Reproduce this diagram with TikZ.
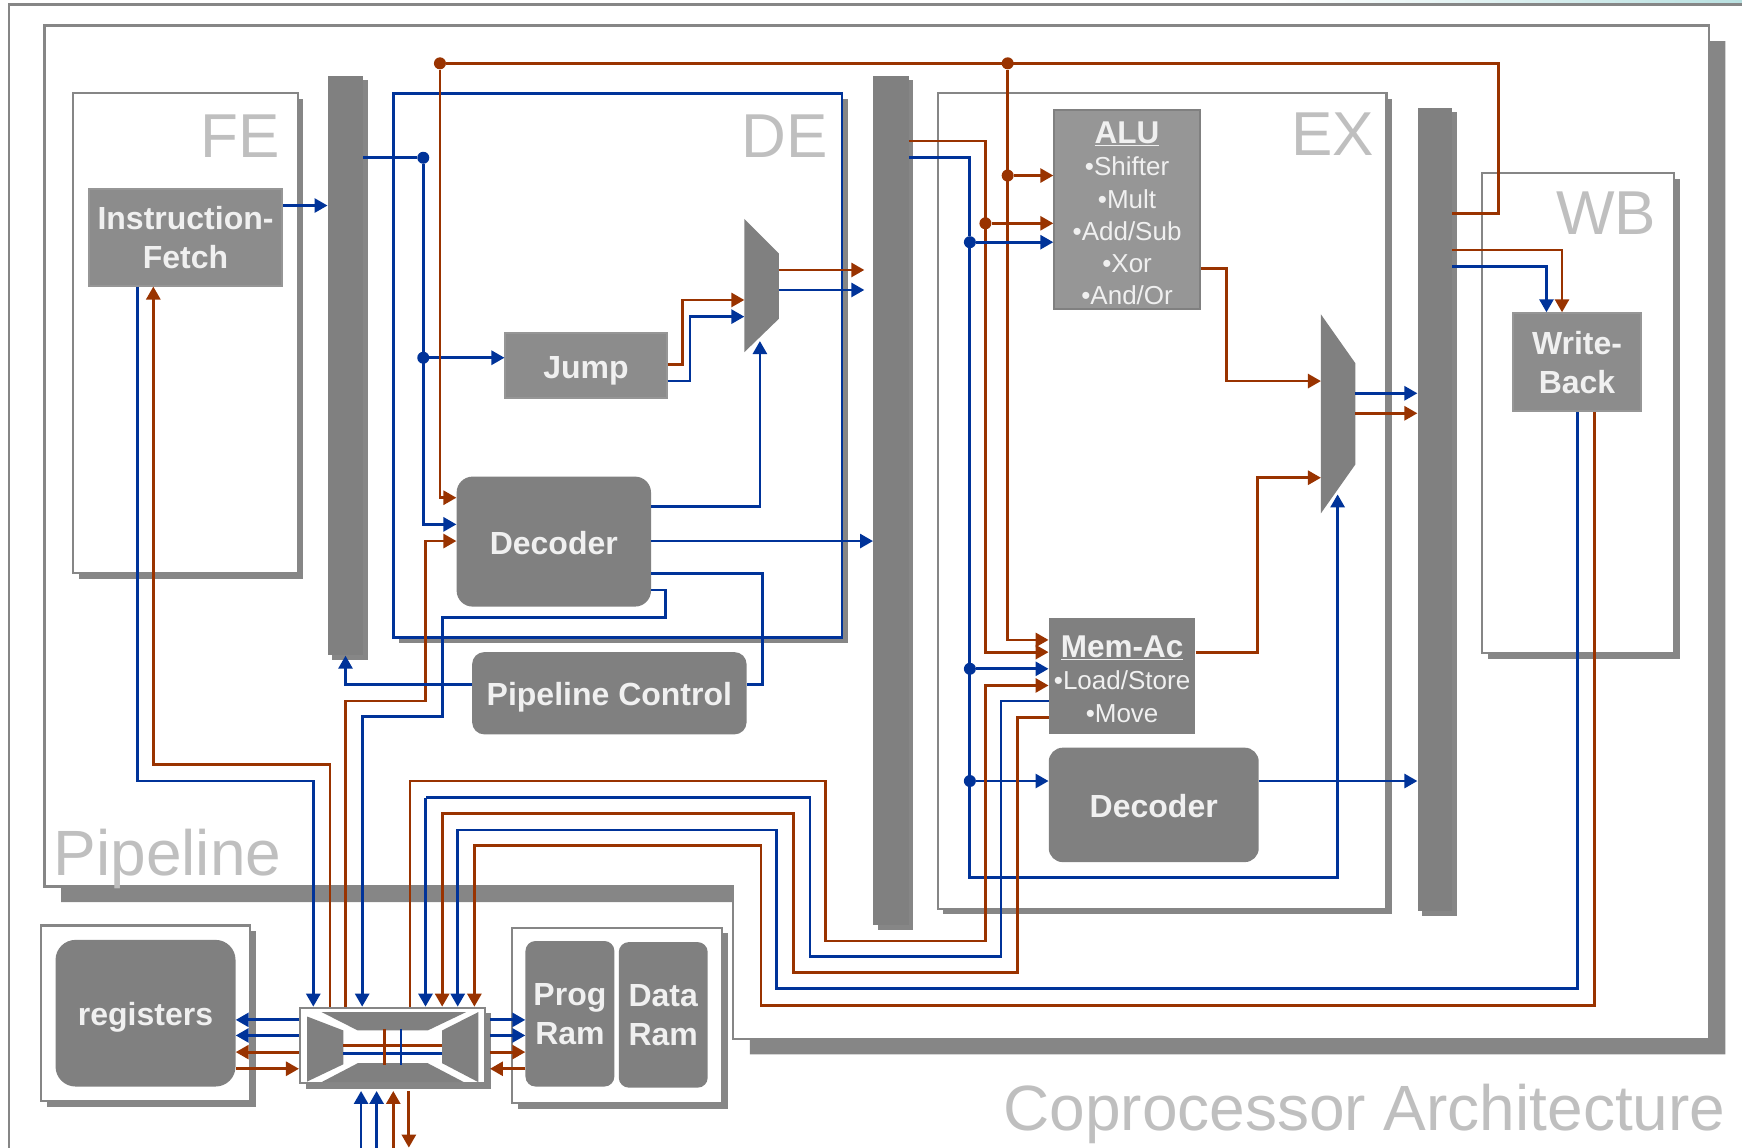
\documentclass[tikz,border=0pt]{standalone}
\usepackage{fontspec}
\setmainfont{Liberation Sans}
\usetikzlibrary{arrows.meta,fit,shadows}
\definecolor{wireblue}{RGB}{0,51,153}
\definecolor{wirebrown}{RGB}{153,51,0}
\definecolor{blockgray}{RGB}{128,128,128}
\definecolor{fetchgray}{RGB}{140,140,140}
\definecolor{alugray}{RGB}{150,150,150}
\definecolor{framegray}{RGB}{134,134,134}
\definecolor{taggray}{RGB}{191,191,191}
\definecolor{softwhite}{RGB}{240,240,240}
\definecolor{stripteal}{RGB}{184,224,224}
\tikzset{
  blocksize/.style 2 args={minimum width=#1*1.111pt, minimum height=#2*1.111pt},
  framebox/.style={draw=framegray, fill=white, line width=2.2pt, inner sep=0pt,
    drop shadow={opacity=1, fill=framegray, shadow xshift=5.6pt, shadow yshift=-5.6pt}},
  stagebar/.style={fill=blockgray, inner sep=0pt,
    drop shadow={opacity=1, fill=framegray, shadow xshift=4.6pt, shadow yshift=-4.6pt}},
  block/.style={fill=blockgray, inner sep=0pt, align=center, text=softwhite,
    font=\fontsize{32}{39}\selectfont\bfseries},
  roundblock/.style={block, rounded corners=#1},
  squareblock/.style={block, fill=fetchgray, draw=alugray, line width=2pt},
  listblock/.style={block, font=\fontsize{26}{32.2}\selectfont},
  oneline/.style={text height=25pt, text depth=0pt},
  tag/.style={text=taggray, inner sep=0pt, font=\fontsize{62}{62}\selectfont},
  bluewire/.style={draw=wireblue, line width=2.8pt},
  brownwire/.style={draw=wirebrown, line width=2.8pt},
  blueflow/.style={bluewire, -{Triangle[length=13pt,width=14pt]}},
  brownflow/.style={brownwire, -{Triangle[length=13pt,width=14pt]}},
  bluedot/.style={circle, fill=wireblue, inner sep=0pt, minimum size=12pt},
  browndot/.style={circle, fill=wirebrown, inner sep=0pt, minimum size=12pt}
}
\newcommand{\listhead}[2]{{\fontsize{31.5}{32.2}\selectfont\bfseries\rule{0pt}{#2}\underline{#1}}}
\begin{document}
\begin{tikzpicture}[x=1.111pt,y=-1.111pt]
  \useasboundingbox (0,0) rectangle (1568,1033.3);
  \shade[left color=white, right color=stripteal] (1150,0) rectangle (1568,4);
  \draw[framegray, line width=2.2pt] (8,1034) -- (8,4) -- (1568,4);

  % pipeline outline and its shadow
  \fill[framegray, shift={(15,14)}] (40,23) -- (1538,23) -- (1538,935) -- (660,935) -- (660,798) -- (40,798) -- cycle;
  \draw[framegray, fill=white, line width=2.2pt] (40,23) -- (1538,23) -- (1538,935) -- (660,935) -- (660,798) -- (40,798) -- cycle;

  % stages
  \node[framebox, fit={(66,84) (268,516)}] (festage) {};
  \node[framebox, draw=wireblue, line width=2.6pt, fit={(354,84) (758,574)}] (destage) {};
  \node[framebox, fit={(844,84) (1248,818)}] (exstage) {};
  \node[framebox, fit={(1334,156) (1507,588)}] (wbstage) {};
  \node[framebox, fit={(37,833) (225,991)}] (regframe) {};
  \node[framebox, fit={(461,835) (650,993)}] (ramframe) {};

  \node[stagebar, fit={(295,68) (327,590)}] (bar1) {};
  \node[stagebar, fit={(786,68) (818,833)}] (bar2) {};
  \node[stagebar, fit={(1276,97) (1307,820)}] (bar3) {};

  \node[tag, anchor=base east] (fetag) at (252,142) {FE};
  \node[tag, anchor=base east] (detag) at (745,142) {DE};
  \node[tag, anchor=base east] (extag) at (1237,140) {EX};
  \node[tag, anchor=base east] (wbtag) at (1491,211) {WB};
  \node[tag, anchor=base west, font=\fontsize{64}{64}\selectfont] (pipetag) at (48,788) {Pipeline};
  \node[tag, anchor=base west, font=\fontsize{64}{64}\selectfont] (coprotag) at (903,1018) {Coprocessor Architecture};

  % blocks
  \node[squareblock, blocksize={174}{87}] (fetch) at (167,213.5) {Instruction-\\Fetch};
  \node[squareblock, oneline, blocksize={145}{58}] (jump) at (527.5,329) {Jump};
  \node[roundblock=16pt, oneline, blocksize={175}{117}] (decode) at (498.5,487.5) {Decoder};
  \node[roundblock=12pt, oneline, blocksize={247}{74}] (pipectl) at (548.5,624) {Pipeline Control};
  \node[listblock, fill=alugray, draw=blockgray, line width=2pt, blocksize={131}{179}] (alu) at (1014.5,188.5) {\listhead{ALU}{30pt}\\•Shifter\\•Mult\\•Add/Sub\\•Xor\\•And/Or};
  \node[listblock, blocksize={132}{105}] (memac) at (1010,608.5) {\listhead{Mem-Ac}{28pt}\\•Load/Store\\•Move};
  \node[roundblock=14pt, oneline, blocksize={189}{103}] (exdecode) at (1038.5,724.5) {Decoder};
  \node[squareblock, blocksize={115}{88}] (writeback) at (1419.5,326) {Write-\\Back};
  \node[roundblock=20pt, oneline, blocksize={162}{132}] (regs) at (131,912) {registers};
  \node[roundblock=10pt, blocksize={80}{131}] (program) at (513,912.5) {Prog\\Ram};
  \node[roundblock=10pt, blocksize={80}{131}] (dataram) at (597,913.5) {Data\\Ram};

  % muxes
  \fill[blockgray] (670,197) coordinate (muxa) -- (701,228) coordinate (muxb) -- (701,287) -- (670,317) -- cycle;
  \fill[blockgray] (1189,283) coordinate (muxc) -- (1220,327) coordinate (muxd) -- (1220,418) -- (1189,462) -- cycle;
  \coordinate (muxasel) at (684,307);
  \coordinate (muxcsel) at (1204,445);

  % crossbar
  \node[framebox, line width=2pt, fit={(270,907) (437,975)}] (xbar) {};
  \coordinate (xbarbase) at (270,982);
  \coordinate (xbarside) at (441,975);
  \fill[blockgray] (276.5,915) -- (309,927.5) -- (309,958) -- (276.5,973.5) -- cycle;
  \fill[blockgray] (289.5,911) -- (419.5,911) -- (385,927.5) -- (322,927.5) -- cycle;
  \fill[blockgray] (322,957) -- (385,957) -- (417.5,974) -- (289.5,974) -- cycle;
  \fill[blockgray] (398,927.5) -- (430.5,911) -- (430.5,974) -- (398,957) -- cycle;
  \coordinate (xl) at (309,941);
  \coordinate (xr) at (398,948);
  \draw[brownwire] (xl) -- (xl -| xr);
  \draw[bluewire] (xl |- xr) -- (xr);
  \draw[brownwire] (346,926) -- (346,959);
  \draw[bluewire] (361,926) -- (361,959);

  % junctions
  \node[bluedot] (jfa) at (381,142) {};
  \node[bluedot] (jfb) at (381,322) {};
  \node[browndot] (jta) at (396,57) {};
  \node[browndot] (jtb) at (907,57) {};
  \node[browndot] (jtc) at (907,158) {};
  \node[browndot] (jra) at (887,201) {};
  \node[bluedot] (jea) at (873,218) {};
  \node[bluedot] (jeb) at (873,602) {};
  \node[bluedot] (jec) at (873,703) {};

  % fetch stage
  \draw[blueflow] (fetch.east |- 0,185) -- (bar1.west |- 0,185);
  \draw[blueflow] (fetch.south -| 124,0) -- (124,703) -- (282,703) -- (xbar.north -| 282,0);
  \draw[brownflow] (xbar.north -| 297,0) -- (297,688) -- (138,688) -- (fetch.south -| 138,0);

  % decode stage
  \draw[bluewire] (bar1.east |- jfa) -- (jfa);
  \draw[blueflow] (jfa) |- (decode.west |- 0,472);
  \draw[blueflow] (jfb) -- (jump.west |- jfb);
  \draw[brownflow] (jta) |- (decode.west |- 0,448);
  \draw[brownflow] (jump.east |- 0,328) -- (614,328) -- (614,270) -- (muxa |- 0,270);
  \draw[blueflow] (jump.east |- 0,343) -- (621,343) -- (621,285) -- (muxa |- 0,285);
  \draw[brownflow] (muxb |- 0,243) -- (778,243);
  \draw[blueflow] (muxb |- 0,261) -- (778,261);
  \draw[blueflow] (decode.east |- 0,456) -| (muxasel);
  \draw[blueflow] (decode.east |- 0,487) -- (bar2.west |- 0,487);
  \draw[bluewire] (decode.east |- 0,516) -- (686,516) -- (686,616) -- (pipectl.east |- 0,616);
  \draw[blueflow] (decode.east |- 0,531) -- (599,531) -- (599,556) -- (398,556) -- (398,645) -- (326,645) -- (xbar.north -| 326,0);
  \draw[brownflow] (xbar.north -| 311,0) -- (311,631) -- (383,631) -- (383,487) -- (decode.west |- 0,487);
  \draw[blueflow] (pipectl.west |- 0,616) -- (311,616) -- (bar1.south -| 311,0);

  % execute stage
  \draw[brownwire] (bar3.east |- 0,192) -- (1349,192) -- (1349,57) -- (jta);
  \draw[brownflow] (jtb) |- (memac.west |- 0,576);
  \draw[brownflow] (jtc) -- (alu.west |- jtc);
  \draw[brownflow] (bar2.east |- 0,127) -- (887,127) |- (memac.west |- 0,587);
  \draw[brownflow] (jra) -- (alu.west |- jra);
  \draw[bluewire] (bar2.east |- 0,142) -- (873,142) -- (jea);
  \draw[blueflow] (jea) -- (alu.west |- jea);
  \draw[blueflow] (jea) -- (873,790) -- (1204,790) -- (muxcsel);
  \draw[blueflow] (jeb) -- (memac.west |- jeb);
  \draw[blueflow] (jec) -- (exdecode.west |- jec);
  \draw[brownflow] (alu.east |- 0,242) -- (1104,242) -- (1104,343) -- (muxc |- 0,343);
  \draw[brownflow] (memac.east |- 0,587) -- (1132,587) -- (1132,430) -- (muxc |- 0,430);
  \draw[blueflow] (exdecode.east |- 0,703) -- (bar3.west |- 0,703);
  \draw[blueflow] (muxd |- 0,354) -- (bar3.west |- 0,354);
  \draw[brownflow] (muxd |- 0,372) -- (bar3.west |- 0,372);

  % write back
  \draw[brownflow] (bar3.east |- 0,225) -- (1406,225) -- (writeback.north -| 1406,0);
  \draw[blueflow] (bar3.east |- 0,240) -- (1392,240) -- (writeback.north -| 1392,0);

  % memory buses
  \draw[brownflow] (xbar.north -| 369,0) -- (369,703) -- (743,703) -- (743,847) -- (887,847) -- (887,617) -- (memac.west |- 0,617);
  \draw[bluewire] (memac.west |- 0,631) -- (901,631) -- (901,861) -- (729,861) -- (729,718) -- (383,718);
  \draw[blueflow] (383,718) -- (xbar.north -| 383,0);
  \draw[brownflow] (memac.west |- 0,646) -- (916,646) -- (916,875) -- (714,875) -- (714,732) -- (398,732) -- (xbar.north -| 398,0);
  \draw[blueflow] (writeback.south -| 1420,0) -- (1420,890) -- (699,890) -- (699,747) -- (412,747) -- (xbar.north -| 412,0);
  \draw[brownflow] (writeback.south -| 1435,0) -- (1435,905) -- (685,905) -- (685,761) -- (427,761) -- (xbar.north -| 427,0);

  % crossbar ports
  \draw[blueflow] (xbar.west |- 0,918) -- (regs.east |- 0,918);
  \draw[blueflow] (xbar.west |- 0,932) -- (regs.east |- 0,932);
  \draw[brownflow] (xbar.west |- 0,947) -- (regs.east |- 0,947);
  \draw[brownflow] (regs.east |- 0,962) -- (xbar.west |- 0,962);
  \draw[blueflow] (xbarside |- 0,918) -- (program.west |- 0,918);
  \draw[blueflow] (xbarside |- 0,932) -- (program.west |- 0,932);
  \draw[brownflow] (xbarside |- 0,947) -- (program.west |- 0,947);
  \draw[brownflow] (program.west |- 0,962) -- (xbarside |- 0,962);
  \coordinate (busin) at (325,1034);
  \draw[blueflow] (busin) -- (xbarbase -| busin);
  \draw[blueflow] (339,1034) coordinate (busdata) -- (xbarbase -| busdata);
  \draw[brownflow] (354,1034) coordinate (busctl) -- (xbarbase -| busctl);
  \draw[brownflow] (xbarbase -| 368,0) -- (368,1033);
\end{tikzpicture}
\end{document}
